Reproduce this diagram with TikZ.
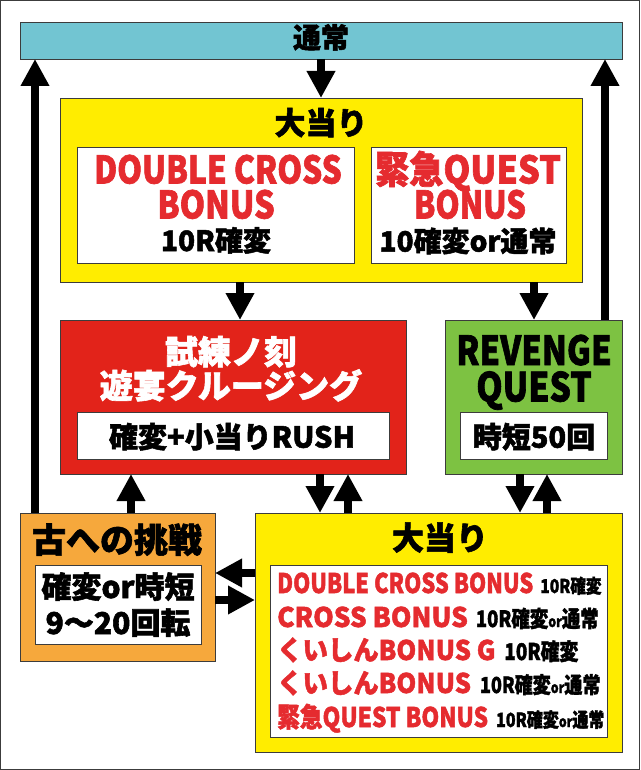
\documentclass[tikz,border=0pt]{standalone}
\usepackage{graphicx}
\usepackage{fontspec}
\newfontfamily\jp{Noto Sans CJK JP}[BoldFeatures={FakeBold=1.8}]
\usetikzlibrary{arrows.meta}
\definecolor{barblue}{RGB}{114,197,210}
\definecolor{hityellow}{RGB}{255,237,0}
\definecolor{rushred}{RGB}{226,35,26}
\definecolor{revgreen}{RGB}{125,194,66}
\definecolor{chalorange}{RGB}{246,168,60}
\definecolor{txtred}{RGB}{229,43,47}
\definecolor{edge}{RGB}{60,60,60}
\newcommand\fs[1]{\fontsize{#1}{#1}\selectfont}
\newcommand\hs[2]{\scalebox{#1}[1]{#2}}
\newcommand\blk[3]{{\color{black}\fs{#1}\hs{#2}{#3}}}
\newcommand\sor{{\fs{15}or}}
\begin{document}
\begin{tikzpicture}[x=1pt,y=-1pt,
  panel/.style={draw=edge, line width=0.9pt, anchor=north west, inner sep=0pt, outer sep=0pt},
  flow/.style={line width=8pt, -{Triangle[width=27pt,length=27pt]}},
  lbl/.style={anchor=base, inner sep=0pt, font=\jp\bfseries},
  row/.style={anchor=base west, inner sep=0pt, font=\jp\bfseries, text=txtred},
]
\useasboundingbox (0,0) rectangle (640,770);
\draw[edge, line width=1pt] (0.5,0.5) rectangle (639.5,769.5);

% panels
\node[panel, fill=barblue, minimum width=602pt, minimum height=37pt] (bar) at (20,22) {};
\node[panel, fill=hityellow, minimum width=522pt, minimum height=184pt] (top) at (60,98) {};
\node[panel, fill=white, minimum width=277pt, minimum height=116pt] (wl) at (77,147) {};
\node[panel, fill=white, minimum width=195pt, minimum height=116pt] (wr) at (371,147) {};
\node[panel, fill=rushred, minimum width=346pt, minimum height=154pt] (red) at (60,320) {};
\node[panel, fill=white, minimum width=312pt, minimum height=47pt] (wred) at (77,412) {};
\node[panel, fill=revgreen, minimum width=177pt, minimum height=154pt] (green) at (445,320) {};
\node[panel, fill=white, minimum width=147pt, minimum height=47pt] (wgreen) at (460,412) {};
\node[panel, fill=chalorange, minimum width=195pt, minimum height=148pt] (orange) at (20,513) {};
\node[panel, fill=white, minimum width=166pt, minimum height=79pt] (worange) at (35,565) {};
\node[panel, fill=hityellow, minimum width=367pt, minimum height=239pt] (bot) at (255,513) {};
\node[panel, fill=white, minimum width=337pt, minimum height=172pt] (wbot) at (270,565) {};

% arrow guide coordinates
\coordinate (xl) at (35,0);
\coordinate (xr) at (605,0);
\coordinate (xa) at (240,0);
\coordinate (xb) at (534,0);
\coordinate (xc) at (131,0);
\coordinate (xd) at (320,0);
\coordinate (xe) at (348,0);
\coordinate (xf) at (520,0);
\coordinate (xg) at (547,0);
\coordinate (yh) at (0,573);
\coordinate (yi) at (0,600);

% arrows
\draw[flow] (bar.south) -- (top.north);
\draw[flow] (xl |- orange.north) -- (xl |- bar.south);
\draw[flow] (xr |- green.north) -- (xr |- bar.south);
\draw[flow] (xa |- top.south) -- (xa |- red.north);
\draw[flow] (xb |- top.south) -- (xb |- green.north);
\draw[flow] (xc |- orange.north) -- (xc |- red.south);
\draw[flow] (xd |- red.south) -- (xd |- bot.north);
\draw[flow] (xe |- bot.north) -- (xe |- red.south);
\draw[flow] (xf |- green.south) -- (xf |- bot.north);
\draw[flow] (xg |- bot.north) -- (xg |- green.south);
\draw[flow] (bot.west |- yh) -- (orange.east |- yh);
\draw[flow] (orange.east |- yi) -- (bot.west |- yi);

% texts
\node[lbl] (t0) at (321,48) {\fs{28}通常};
\node[lbl] (t1) at (321,134.5) {\fs{31}大当り};
\node[lbl, text=txtred] (t2) at (218,183.5) {\fs{38}\hs{0.83}{DOUBLE CROSS}};
\node[lbl, text=txtred] (t3) at (216,218.5) {\fs{38}\hs{0.85}{BONUS}};
\node[lbl] (t4) at (216,251) {\fs{28}10R確変};
\node[lbl, text=txtred] (t5) at (468,183.5) {\fs{38}\hs{0.9}{緊急QUEST}};
\node[lbl, text=txtred] (t6) at (470,218.5) {\fs{38}\hs{0.81}{BONUS}};
\node[lbl] (t7) at (468,251.6) {\fs{28}10確変or通常};

\node[lbl, text=white] (t8) at (231,364.2) {\fs{33}試練ノ刻};
\node[lbl, text=white] (t9) at (231,398.2) {\fs{33}遊宴クルージング};
\node[lbl] (t10) at (232,447.7) {\fs{29}確変+小当りRUSH};

\node[lbl] (t11) at (534,365) {\fs{40}\hs{0.82}{REVENGE}};
\node[lbl] (t12) at (534,401.5) {\fs{40}\hs{0.84}{QUEST}};
\node[lbl] (t13) at (534,447.7) {\fs{29}時短50回};

\node[lbl] (t14) at (117,552.6) {\fs{34}古への挑戦};
\node[lbl] (t15) at (118,598) {\fs{30}確変or時短};
\node[lbl] (t16) at (118,634) {\fs{30}9〜20回転};

\node[lbl] (t17) at (440,549.8) {\fs{32}大当り};
\node[row] (l1) at (277,593) {\fs{27}\hs{0.81}{DOUBLE CROSS BONUS}\hspace{7pt}\blk{19}{0.82}{10R確変}};
\node[row] (l2) at (277,627) {\fs{27}\hs{0.97}{CROSS BONUS}\hspace{8pt}\blk{22.5}{0.82}{10R確変\sor 通常}};
\node[row] (l3) at (277,660) {\fs{27}\hs{0.94}{くいしんBONUS G}\hspace{9pt}\blk{23}{0.82}{10R確変}};
\node[row] (l4) at (277,693) {\fs{27}\hs{0.94}{くいしんBONUS}\hspace{9pt}\blk{22}{0.82}{10R確変\sor 通常}};
\node[row] (l5) at (277,727) {\fs{27}\hs{0.84}{緊急QUEST BONUS}\hspace{8pt}\blk{19.5}{0.82}{10R確変\sor 通常}};
\end{tikzpicture}
\end{document}
